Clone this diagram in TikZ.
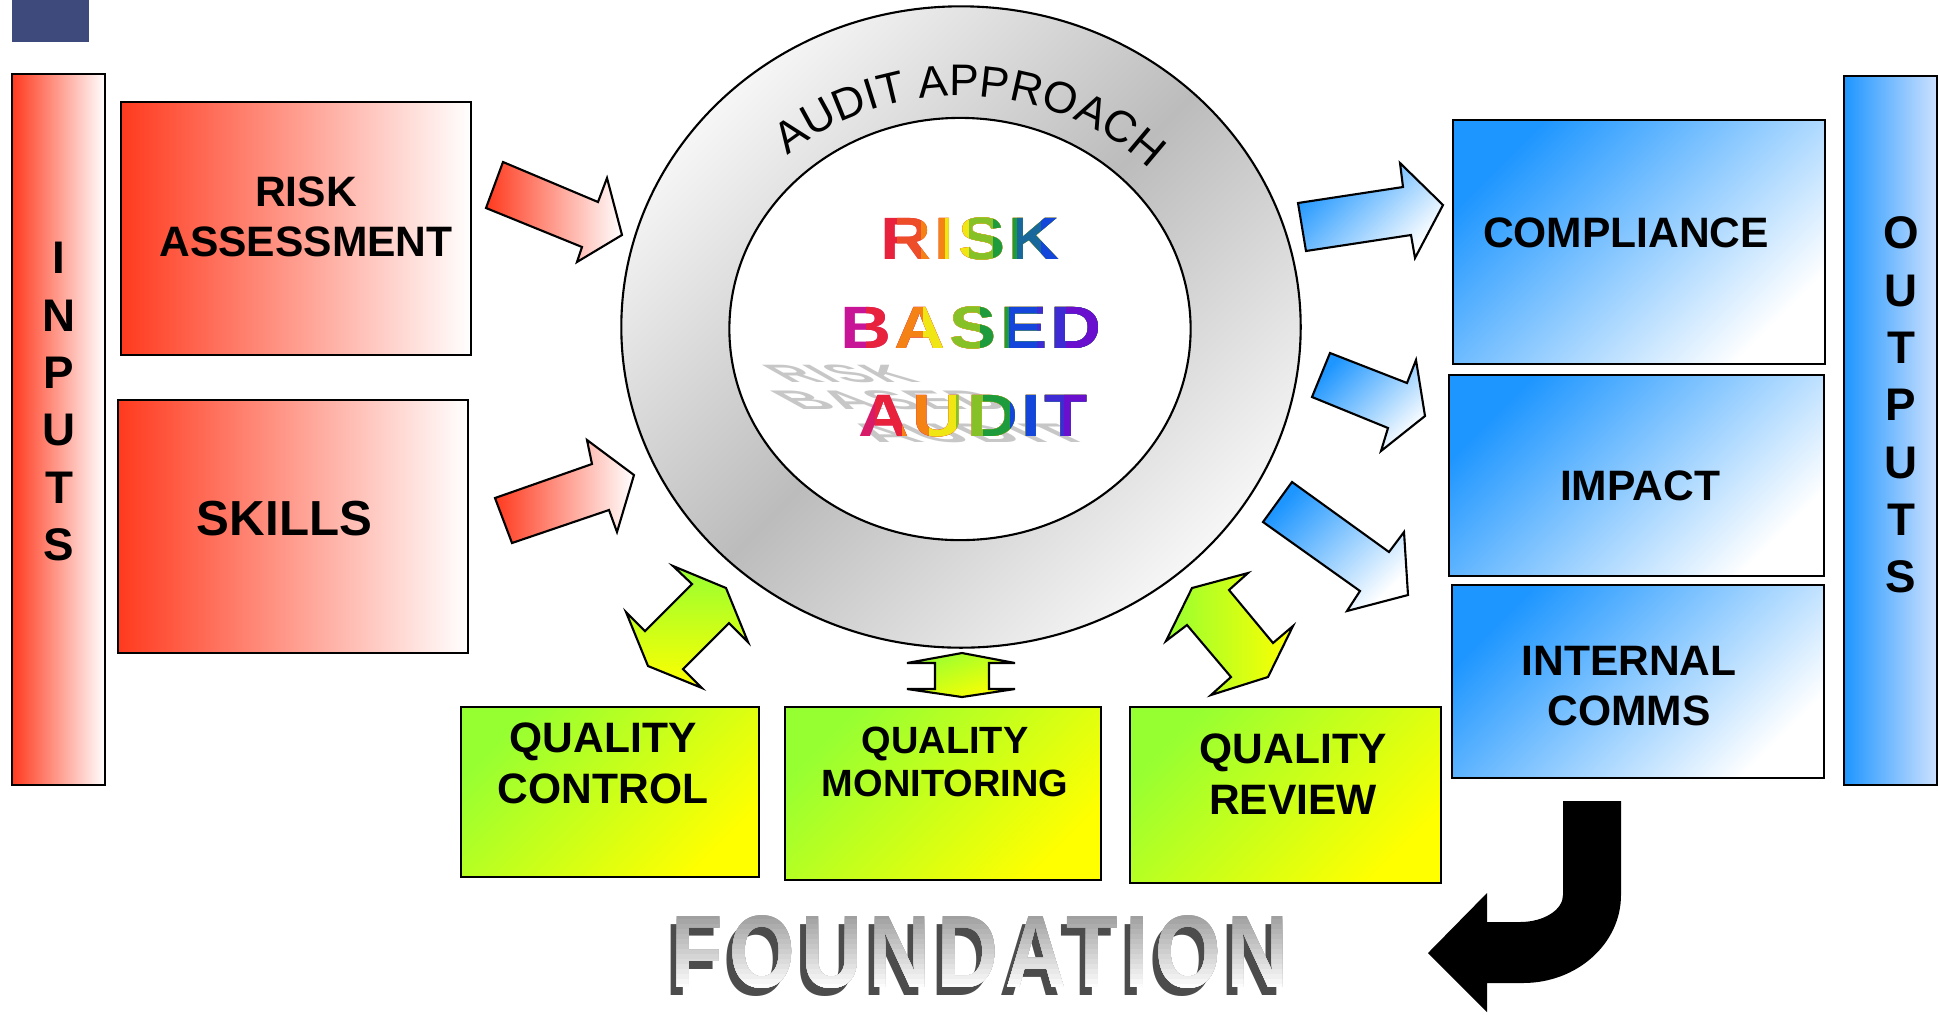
\documentclass[tikz,border=0pt]{standalone}
\usepackage{fontspec}
\setmainfont{Liberation Sans}
\newfontfamily\rainbowface{Liberation Sans}[LetterSpace=6, FakeStretch=1.18]
\newfontfamily\foundface{Liberation Sans}[LetterSpace=8]
\usetikzlibrary{shapes.geometric, fit, decorations.text}

\definecolor{tabblue}{RGB}{62,74,124}
\definecolor{inred}{RGB}{255,58,30}
\definecolor{outblue}{RGB}{30,150,255}
\definecolor{paleblue}{RGB}{205,225,255}
\definecolor{qgreen}{RGB}{150,255,50}
\definecolor{qyellow}{RGB}{255,255,0}
\definecolor{ringlight}{RGB}{246,246,246}
\definecolor{ringdark}{RGB}{188,188,188}
\definecolor{rbmag}{RGB}{200,20,150}
\definecolor{rbred}{RGB}{232,34,60}
\definecolor{rborange}{RGB}{245,130,20}
\definecolor{rbyellow}{RGB}{240,230,20}
\definecolor{rbgreen}{RGB}{30,155,60}
\definecolor{rbblue}{RGB}{20,70,220}
\definecolor{rbpurple}{RGB}{105,15,205}

\newcommand\ringfont{\fontsize{12.6}{14}\selectfont}

\tikzset{
  inbox/.style={draw, line width=0.6pt, left color=inred, right color=white, inner sep=0pt},
  outbox/.style={draw, line width=0.6pt, top color=outblue, bottom color=white, shading angle=45, inner sep=0pt},
  outbar/.style={draw, line width=0.6pt, left color=outblue, right color=paleblue, inner sep=0pt},
  qbox/.style={draw, line width=0.6pt, top color=qgreen, bottom color=qyellow, shading angle=45, inner sep=0pt},
  ring/.style={draw, line width=0.6pt, shape=ellipse, inner sep=0pt, top color=ringlight, bottom color=ringlight, middle color=ringdark, shading angle=45},
  core/.style={draw, line width=0.6pt, shape=ellipse, inner sep=0pt, fill=white},
  redarrow/.style={draw, line width=0.6pt, left color=inred, right color=white},
  bluearrow/.style={draw, line width=0.6pt, top color=outblue, bottom color=white, shading angle=45},
  qarrow/.style={draw, line width=0.6pt, top color=qgreen, bottom color=qyellow},
  lbl/.style={font=\fontsize{12.1}{14.4}\selectfont\bfseries, align=center, inner sep=0pt},
  barlbl/.style={font=\fontsize{13}{16.3}\selectfont\bfseries, align=center, inner sep=0pt},
  rainbow/.style={font=\fontsize{17}{17}\selectfont\rainbowface\bfseries, inner sep=0pt},
  ghost/.style={font=\fontsize{17}{17}\selectfont\rainbowface\bfseries, inner sep=0pt, text=black!22},
  found/.style={font=\fontsize{29.3}{30}\selectfont\foundface\bfseries, xscale=0.82, inner sep=0pt}
}

\begin{document}
\begin{tikzpicture}[x=0.01cm, y=-0.01cm]
\useasboundingbox (0,0) rectangle (1939,1014);

\node [fill=tabblue, inner sep=0pt, fit={(12,0) (89,42)}] (tab) {};
\node [inbox, fit={(12,74) (105,785)}] (inputs) {};
\node [inbox, fit={(121,102) (471,355)}] (riskbox) {};
\node [inbox, fit={(118,400) (468,653)}] (skillbox) {};
\node [outbox, fit={(1453,120) (1825,364)}] (compbox) {};
\node [outbox, fit={(1449,375) (1824,576)}] (impactbox) {};
\node [outbox, fit={(1452,585) (1824,778)}] (commsbox) {};
\node [outbar, fit={(1844,76) (1937,785)}] (outputs) {};
\node [qbox, fit={(461,707) (759,877)}] (qcbox) {};
\node [qbox, fit={(785,707) (1101,880)}] (qmbox) {};
\node [qbox, fit={(1130,707) (1441,883)}] (qrbox) {};

\node [barlbl] (inlbl) at (59,401.5) {I\\N\\P\\U\\T\\S};
\node [barlbl] (outlbl) at (1901,405) {O\\U\\T\\P\\U\\T\\S};
\node [lbl] (risklbl) at (306,217) {RISK\\ASSESSMENT};
\node [lbl, font=\fontsize{14}{16}\selectfont\bfseries] (skilllbl) at (284.5,518.5) {SKILLS};
\node [lbl] (complbl) at (1626,233) {COMPLIANCE};
\node [lbl] (impactlbl) at (1640,486) {IMPACT};
\node [lbl] (commslbl) at (1629,686) {INTERNAL\\COMMS};
\node [lbl] (qclbl) at (603,763.5) {QUALITY\\CONTROL};
\node [lbl, font=\fontsize{10.8}{12}\selectfont\bfseries] (qmlbl) at (945,762) {QUALITY\\MONITORING};
\node [lbl] (qrlbl) at (1293,774) {QUALITY\\REVIEW};

\node [ring, minimum width=6.79cm, minimum height=6.41cm] (approach) at (961,327) {};
\node [core, minimum width=4.61cm, minimum height=4.22cm] (core) at (960,329) {};
\path [decorate, decoration={text along path, text={|\ringfont|AUDIT APPROACH}, text align=center}]
  (737.6,211.5) arc [start angle=-150, end angle=-25, x radius=258, y radius=231];

\node [ghost, xscale=0.74, yscale=0.42, xslant=-1] (riskghost) at (840,374) {RISK};
\node [ghost, xscale=0.82, yscale=0.45, xslant=-1] (basedghost) at (890,400) {BASED};
\node [ghost, xscale=0.95, yscale=0.45, xslant=-1] (auditghost) at (968,433) {AUDIT};
\foreach \c [count=\i from 0] in {rbred, rbred!55!rborange, rborange, rbyellow, rbyellow!50!rbgreen, rbgreen, rbgreen!40!rbblue, rbblue}{
  \begin{scope}
    \clip (873+24*\i,200) rectangle (1080,280);
    \node [rainbow, text=\c] (risk\i) at (970,239) {RISK};
  \end{scope}
}
\foreach \c [count=\i from 0] in {rbmag, rbred, rborange, rbyellow, rbyellow!50!rbgreen, rbgreen, rbblue, rbblue!50!rbpurple, rbpurple}{
  \begin{scope}
    \clip (838+28.5*\i,290) rectangle (1110,370);
    \node [rainbow, text=\c] (based\i) at (971,328) {BASED};
  \end{scope}
}
\foreach \c [count=\i from 0] in {rbmag!50!rbred, rbred, rborange, rbyellow, rbyellow!50!rbgreen, rbgreen, rbblue, rbblue!50!rbpurple, rbpurple}{
  \begin{scope}
    \clip (848+27*\i,380) rectangle (1100,460);
    \node [rainbow, text=\c] (audit\i) at (973,416) {AUDIT};
  \end{scope}
}

\draw [redarrow] (503,162) -- (598,202) -- (607,178) -- (622,235) -- (577,262) -- (582,247) -- (486,208) -- cycle;
\draw [redarrow] (495,498) -- (592,464) -- (587,440) -- (634,475) -- (617,532) -- (609,510) -- (512,543) -- cycle;
\draw [bluearrow] (1298,203) -- (1403,187) -- (1400,163) -- (1443,205) -- (1415,258) -- (1411,235) -- (1306,251) -- cycle;
\draw [bluearrow] (1330,353) -- (1407,383) -- (1416,360) -- (1425,416) -- (1381,451) -- (1388,428) -- (1312,397) -- cycle;
\draw [bluearrow] (1292,482) -- (1389,552) -- (1404,532) -- (1408,595) -- (1347,611) -- (1360,591) -- (1263,522) -- cycle;
\draw [qarrow] (673,566) -- (726,588) -- (748,642) -- (729,623) -- (683,669) -- (702,688) -- (648,666) -- (626,612) -- (645,631) -- (692,584) -- cycle;
\draw [qarrow, shading angle=20] (962,653) -- (1015,663) -- (989,663) -- (989,689) -- (1015,689) -- (962,697) -- (907,689) -- (935,689) -- (935,663) -- (907,663) -- cycle;
\draw [qarrow, left color=qgreen, right color=qyellow] (1192,588) -- (1248,573) -- (1229,590) -- (1273,643) -- (1293,626) -- (1268,677) -- (1211,695) -- (1231,677) -- (1187,625) -- (1166,641) -- cycle;

\node [found, text=black!70] (foundshadow) at (974,960) {FOUNDATION};
\foreach \k [evaluate=\k as \tone using 40-2.6*\k] in {0,...,15}{
  \begin{scope}
    \clip (600,909+5*\k) rectangle (1350,1010);
    \node [found, text=black!\tone] (found\k) at (980,952) {FOUNDATION};
  \end{scope}
}

\fill (1563,801) -- (1621,801) -- (1621,895) arc [start angle=0, end angle=90, x radius=98, y radius=88]
  -- (1487,983) -- (1487,1012) -- (1428,953) -- (1487,893) -- (1487,922) -- (1520,922)
  arc [start angle=90, end angle=0, x radius=43, y radius=27] -- cycle;
\end{tikzpicture}
\end{document}
